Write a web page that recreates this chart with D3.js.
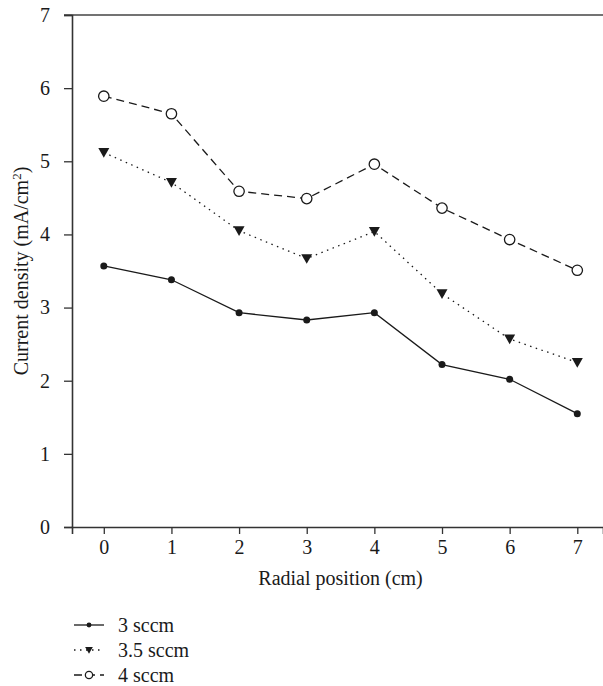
<!DOCTYPE html>
<html>
<head>
  <meta charset="utf-8" />
  <title>Current density vs radial position</title>
  <script src="https://d3js.org/d3.v7.min.js"></script>
  <style>
    body { margin: 0; background: #fff; }
    svg { display: block; font-family: "Liberation Serif", "DejaVu Serif", serif; }
  </style>
</head>
<body>
  <svg width="603" height="686"></svg>
  <script>
    // data
    const positions = [0, 1, 2, 3, 4, 5, 6, 7];
    const sccm3 = [3.57, 3.38, 2.93, 2.83, 2.93, 2.22, 2.02, 1.55];
    const sccm35 = [5.12, 4.71, 4.05, 3.67, 4.04, 3.19, 2.57, 2.25];
    const sccm4 = [5.89, 5.65, 4.59, 4.49, 4.96, 4.36, 3.93, 3.51];
    const seriesNames = ["3 sccm", "3.5 sccm", "4 sccm"];
    const yTicks = [0, 1, 2, 3, 4, 5, 6, 7];

    const series = [
      { name: seriesNames[0], values: sccm3, dash: null, marker: "dot" },
      { name: seriesNames[1], values: sccm35, dash: "1.5,4.5", marker: "tri" },
      { name: seriesNames[2], values: sccm4, dash: "8,5", marker: "ring" }
    ];

    const svg = d3.select("svg");
    const ink = "#1a1a1a";
    const fs = "20px";
    const margin = { top: 15, left: 72, bottom: 527, right: 603 };

    const x = d3.scaleLinear().domain([-0.47, 7.38]).range([margin.left, margin.right]);
    const y = d3.scaleLinear().domain([0, 7]).range([margin.bottom, margin.top]);

    // top frame line
    svg.append("line")
      .attr("x1", margin.left - 8).attr("x2", margin.right)
      .attr("y1", y(7)).attr("y2", y(7))
      .attr("stroke", "#444").attr("stroke-width", 1.6);

    const yAxis = svg.append("g")
      .attr("transform", `translate(${margin.left},0)`)
      .call(d3.axisLeft(y).tickValues(yTicks).tickFormat(d3.format("d")).tickSize(8).tickPadding(14));

    const xAxis = svg.append("g")
      .attr("transform", `translate(0,${margin.bottom})`)
      .call(d3.axisBottom(x).tickValues(positions).tickFormat(d3.format("d")).tickSize(7).tickPadding(6));

    [xAxis, yAxis].forEach(a => {
      a.select(".domain").attr("stroke", "#333").attr("stroke-width", 1.6);
      a.selectAll(".tick line").attr("stroke", "#333").attr("stroke-width", 1.3);
      a.selectAll("text").attr("fill", ink).style("font-size", fs)
        .style("font-family", "'Liberation Serif', serif");
    });

    svg.append("text")
      .attr("x", x(3.5)).attr("y", 585)
      .attr("text-anchor", "middle")
      .attr("fill", ink).style("font-size", fs)
      .text("Radial position (cm)");

    const yTitle = svg.append("text")
      .attr("transform", `translate(28,${(y(0) + y(7)) / 2}) rotate(-90)`)
      .attr("text-anchor", "middle")
      .attr("fill", ink).style("font-size", fs);
    yTitle.append("tspan").text("Current density (mA/cm");
    yTitle.append("tspan").attr("baseline-shift", "super").style("font-size", "13px").text("2");
    yTitle.append("tspan").text(")");

    function drawMarker(g, type, cx, cy, k) {
      if (type === "dot") {
        g.append("circle").attr("cx", cx).attr("cy", cy).attr("r", 3.5 * k).attr("fill", ink);
      } else if (type === "tri") {
        const s = 5.5 * k;
        g.append("path")
          .attr("d", `M${cx - s},${cy - s * 0.8}L${cx + s},${cy - s * 0.8}L${cx},${cy + s * 0.95}Z`)
          .attr("fill", ink);
      } else {
        g.append("circle").attr("cx", cx).attr("cy", cy).attr("r", 5.2 * k)
          .attr("fill", "#fff").attr("stroke", ink).attr("stroke-width", 1.3);
      }
    }

    const line = d3.line().x((d, i) => x(positions[i])).y(d => y(d));

    series.forEach(s => {
      const g = svg.append("g");
      g.append("path")
        .datum(s.values)
        .attr("d", line)
        .attr("fill", "none")
        .attr("stroke", ink)
        .attr("stroke-width", 1.3)
        .attr("stroke-dasharray", s.dash);
      s.values.forEach((v, i) => drawMarker(g, s.marker, x(positions[i]), y(v), 1));
    });

    // legend
    const legend = svg.append("g");
    series.forEach((s, i) => {
      const ly = 625 + i * 25;
      legend.append("line")
        .attr("x1", 74).attr("x2", 104).attr("y1", ly).attr("y2", ly)
        .attr("stroke", ink).attr("stroke-width", 1.3)
        .attr("stroke-dasharray", s.dash);
      drawMarker(legend, s.marker, 89, ly, 0.7);
      legend.append("text")
        .attr("x", 118).attr("y", ly + 7)
        .attr("fill", ink).style("font-size", fs)
        .text(s.name);
    });
  </script>
</body>
</html>
